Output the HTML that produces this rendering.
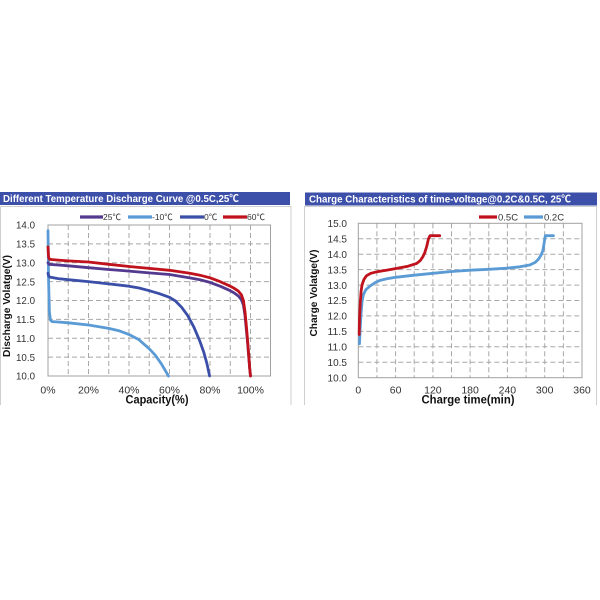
<!DOCTYPE html>
<html><head><meta charset="utf-8"><style>
html,body{margin:0;padding:0;background:#fff;}
svg{display:block;}
text{font-family:"Liberation Sans","Noto Sans CJK SC",sans-serif;}
</style></head><body>
<svg width="600" height="600" viewBox="0 0 600 600" xmlns="http://www.w3.org/2000/svg">
<rect width="600" height="600" fill="#fff"/>

<!-- ============ LEFT PANEL ============ -->
<rect x="0" y="192" width="290" height="13" fill="#3c4fa9"/>
<text x="3" y="202" font-size="10" font-weight="bold" fill="#fff" textLength="236" lengthAdjust="spacingAndGlyphs">Different Temperature Discharge Curve @0.5C,25℃</text>
<path d="M0.5 206.5 H291 V405 M0.5 206.5 V405" fill="none" stroke="#cfcfcf" stroke-width="1"/>

<!-- grid -->
<g stroke="#a8a8a8" stroke-width="1" stroke-dasharray="5,3" fill="none">
<path d="M48 243.9H270.5 M48 262.8H270.5 M48 281.6H270.5 M48 300.5H270.5 M48 319.4H270.5 M48 338.3H270.5 M48 357.1H270.5"/>
<path d="M68.25 225V376 M88.5 225V376 M108.75 225V376 M129 225V376 M149.25 225V376 M169.5 225V376 M189.75 225V376 M210 225V376 M230.25 225V376 M250.5 225V376"/>
</g>
<rect x="48" y="225" width="222.5" height="151" fill="none" stroke="#a0a0a0" stroke-width="1"/>

<!-- y ticks -->
<g font-size="10.5" fill="#333" text-anchor="end">
<text x="35" y="228.7" textLength="19" lengthAdjust="spacingAndGlyphs">14.0</text>
<text x="35" y="247.6" textLength="19" lengthAdjust="spacingAndGlyphs">13.5</text>
<text x="35" y="266.5" textLength="19" lengthAdjust="spacingAndGlyphs">13.0</text>
<text x="35" y="285.3" textLength="19" lengthAdjust="spacingAndGlyphs">12.5</text>
<text x="35" y="304.2" textLength="19" lengthAdjust="spacingAndGlyphs">12.0</text>
<text x="35" y="323.1" textLength="19" lengthAdjust="spacingAndGlyphs">11.5</text>
<text x="35" y="342" textLength="19" lengthAdjust="spacingAndGlyphs">11.0</text>
<text x="35" y="360.8" textLength="19" lengthAdjust="spacingAndGlyphs">10.5</text>
<text x="35" y="379.7" textLength="19" lengthAdjust="spacingAndGlyphs">10.0</text>
</g>
<g font-size="10.5" fill="#333" text-anchor="middle">
<text x="48" y="393.3">0%</text>
<text x="88.5" y="393.3">20%</text>
<text x="129" y="393.3">40%</text>
<text x="169.5" y="393.3">60%</text>
<text x="210" y="393.3">80%</text>
<text x="250.5" y="393.3">100%</text>
</g>
<text x="157" y="403.5" font-size="12" font-weight="bold" fill="#111" text-anchor="middle" textLength="63" lengthAdjust="spacingAndGlyphs">Capacity(%)</text>
<text transform="translate(10,306) rotate(-90)" font-size="10.5" font-weight="bold" fill="#111" text-anchor="middle" textLength="102" lengthAdjust="spacingAndGlyphs">Discharge Volatge(V)</text>

<!-- legend -->
<g stroke-width="3.2">
<line x1="80" y1="217" x2="103" y2="217" stroke="#533a8e"/>
<line x1="128" y1="217" x2="152" y2="217" stroke="#5b9bd5"/>
<line x1="180" y1="217" x2="204" y2="217" stroke="#3b4fa8"/>
<line x1="223" y1="217" x2="247" y2="217" stroke="#c0121c"/>
</g>
<g font-size="8.5" fill="#333">
<text x="103" y="220">25℃</text>
<text x="152" y="220">-10℃</text>
<text x="204" y="220">0℃</text>
<text x="247" y="220">60℃</text>
</g>

<!-- curves -->
<g fill="none" stroke-width="2.8" stroke-linejoin="round" stroke-linecap="round">
<polyline stroke="#5b9bd5" points="48,230.7 48.6,281.6 49.4,311.8 50.4,320.1 52.05,321.6 58.1,322 68.25,322.8 88.5,325 108.75,328.4 118.9,330.7 129,334.5 139.1,339.8 149.25,348.8 155.3,355.2 161.4,363.9 168.5,376"/>
<polyline stroke="#3b4fa8" points="48,273.3 48.6,276 50,277.1 58.1,278.6 68.25,279.7 88.5,281.6 108.75,283.9 129,286.2 139.1,288 149.25,290.7 159.4,293.7 169.5,297.3 175.6,301.1 181.65,307.3 187.7,315.6 193.8,326.9 199.9,341.3 203.9,352.6 207,363.9 209.6,376"/>
<polyline stroke="#533a8e" points="48,262.75 49,264.3 58.1,265 68.25,265.8 88.5,267.7 108.75,269.5 129,271.1 149.25,272.9 169.5,274.5 189.75,277.9 199.9,279.7 210,282.4 220.1,286.2 230.25,290.7 234.3,293 238.35,296 241.4,299.7 243.4,305 245,315.6 246.45,330.7 247.7,343.9 248.9,359 249.7,368.4 250.5,376"/>
<polyline stroke="#c0121c" points="48,246.9 48.6,257.1 49.6,259.4 58.1,260.1 68.25,260.9 88.5,262 108.75,264.3 129,266.5 149.25,268.4 169.5,270.3 189.75,273.3 199.9,275.2 210,277.8 220.1,281.6 230.25,286.2 234.3,288.4 238.35,291.1 241.4,294.8 243.4,300.5 245,311.8 246.45,326.9 247.7,342 248.9,357.1 249.7,368.4 250.5,376"/>
</g>

<!-- ============ RIGHT PANEL ============ -->
<rect x="305" y="192.5" width="292" height="13" fill="#3c4fa9"/>
<text x="309" y="202.5" font-size="10" font-weight="bold" fill="#fff" textLength="262" lengthAdjust="spacingAndGlyphs">Charge  Characteristics of time-voltage@0.2C&amp;0.5C, 25℃</text>
<path d="M304.5 405 V206.5 H596.5 V405" fill="none" stroke="#cfcfcf" stroke-width="1"/>

<g stroke="#a8a8a8" stroke-width="1" stroke-dasharray="5,3" fill="none">
<path d="M358.3 238.7H582 M358.3 254.2H582 M358.3 269.6H582 M358.3 285.1H582 M358.3 300.5H582 M358.3 315.9H582 M358.3 331.4H582 M358.3 346.8H582 M358.3 362.3H582"/>
<path d="M376.9 223.3V377.7 M395.6 223.3V377.7 M414.2 223.3V377.7 M432.9 223.3V377.7 M451.5 223.3V377.7 M470.1 223.3V377.7 M488.8 223.3V377.7 M507.4 223.3V377.7 M526.1 223.3V377.7 M544.7 223.3V377.7 M563.4 223.3V377.7"/>
</g>
<rect x="358.3" y="223.3" width="223.7" height="154.4" fill="none" stroke="#a0a0a0" stroke-width="1"/>

<g font-size="10.5" fill="#333" text-anchor="end">
<text x="347" y="227" textLength="19.5" lengthAdjust="spacingAndGlyphs">15.0</text>
<text x="347" y="242.4" textLength="19.5" lengthAdjust="spacingAndGlyphs">14.5</text>
<text x="347" y="257.9" textLength="19.5" lengthAdjust="spacingAndGlyphs">14.0</text>
<text x="347" y="273.3" textLength="19.5" lengthAdjust="spacingAndGlyphs">13.5</text>
<text x="347" y="288.8" textLength="19.5" lengthAdjust="spacingAndGlyphs">13.0</text>
<text x="347" y="304.2" textLength="19.5" lengthAdjust="spacingAndGlyphs">12.5</text>
<text x="347" y="319.6" textLength="19.5" lengthAdjust="spacingAndGlyphs">12.0</text>
<text x="347" y="335.1" textLength="19.5" lengthAdjust="spacingAndGlyphs">11.5</text>
<text x="347" y="350.5" textLength="19.5" lengthAdjust="spacingAndGlyphs">11.0</text>
<text x="347" y="366" textLength="19.5" lengthAdjust="spacingAndGlyphs">10.5</text>
<text x="347" y="381.4" textLength="19.5" lengthAdjust="spacingAndGlyphs">10.0</text>
</g>
<g font-size="10.5" fill="#333" text-anchor="middle">
<text x="358.3" y="393.3">0</text>
<text x="395.6" y="393.3">60</text>
<text x="432.9" y="393.3">120</text>
<text x="470.1" y="393.3">180</text>
<text x="507.4" y="393.3">240</text>
<text x="544.7" y="393.3">300</text>
<text x="582" y="393.3">360</text>
</g>
<text x="468" y="403.5" font-size="12" font-weight="bold" fill="#111" text-anchor="middle" textLength="93" lengthAdjust="spacingAndGlyphs">Charge time(min)</text>
<text transform="translate(317,293) rotate(-90)" font-size="10.5" font-weight="bold" fill="#111" text-anchor="middle" textLength="87" lengthAdjust="spacingAndGlyphs">Charge Volatge(V)</text>

<g stroke-width="3.2">
<line x1="479" y1="217" x2="497" y2="217" stroke="#c0121c"/>
<line x1="524" y1="217" x2="543" y2="217" stroke="#5b9bd5"/>
</g>
<g font-size="9.5" fill="#333">
<text x="498" y="220.5">0.5C</text>
<text x="544" y="220.5">0.2C</text>
</g>

<g fill="none" stroke-width="2.8" stroke-linejoin="round" stroke-linecap="round">
<polyline stroke="#5b9bd5" points="359.5,343.7 360.2,328.3 361.1,312.9 362,302 363.3,294.9 365.8,289.7 370.1,286 375.1,282.6 380,280.4 386.3,278.9 395.6,277.3 414.2,275.2 432.9,273.3 451.5,271.5 470.2,270.2 488.8,269.3 507.4,268.1 519.9,266.8 529.8,265 535.4,262.2 538.5,259.1 541,255.1 542.9,250.5 544.1,243.4 545.3,235.7 553.4,235.7"/>
<polyline stroke="#c0121c" points="359.2,334.5 359.5,319 360.2,303.6 361.1,291.2 362,285.1 363.9,279.5 366.4,275.8 370.7,273.3 376.9,271.8 386.3,270.2 396.8,268.4 408,266.2 416.7,263.4 420.4,260.4 422.9,256.7 424.8,252.6 426.7,246.5 428.5,238.7 430.1,235.7 439.7,235.7"/>
</g>
</svg>
</body></html>
